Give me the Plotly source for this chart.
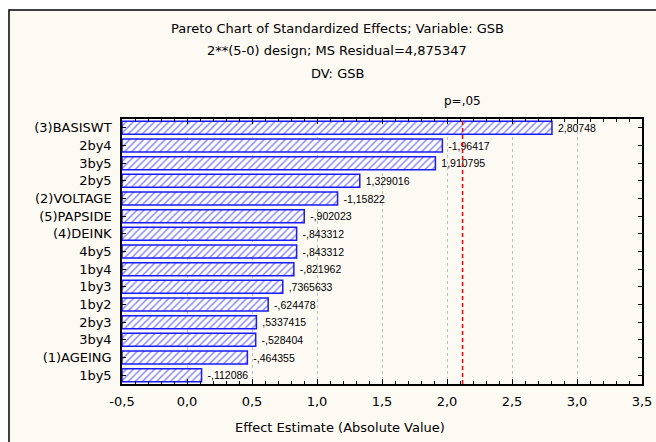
import plotly.graph_objects as go

# ---- data ----
effects = ["(3)BASISWT", "2by4", "3by5", "2by5", "(2)VOLTAGE", "(5)PAPSIDE",
           "(4)DEINK", "4by5", "1by4", "1by3", "1by2", "2by3", "3by4",
           "(1)AGEING", "1by5"]
estimates = [2.80748, -1.96417, 1.910795, 1.329016, -1.15822, -0.902023,
             -0.843312, -0.843312, -0.821962, 0.7365633, -0.624478, 0.5337415,
             -0.528404, -0.464355, -0.112086]
estimate_labels = ["2,80748", "-1,96417", "1,910795", "1,329016", "-1,15822",
                   "-,902023", "-,843312", "-,843312", "-,821962", ",7365633",
                   "-,624478", ",5337415", "-,528404", "-,464355", "-,112086"]
x_tick_vals = [-0.5, 0.0, 0.5, 1.0, 1.5, 2.0, 2.5, 3.0, 3.5]
x_tick_text = ["-0,5", "0,0", "0,5", "1,0", "1,5", "2,0", "2,5", "3,0", "3,5"]
p_crit = 2.1199
x_min, x_max = -0.5, 3.5

titles = ["Pareto Chart of Standardized Effects; Variable: GSB",
          "2**(5-0) design; MS Residual=4,875347",
          "DV: GSB"]

FONT = "DejaVu Sans, Verdana, sans-serif"
SMALL = "Liberation Sans, Arial, sans-serif"
BLUE = "#1a1aff"

# plot area in pixels
W, H = 656, 442
L, R, T, B = 122, 14, 119, 58
pw, ph = W - L - R, H - T - B
def px(x):  # pixel x -> paper
    return (x - L) / pw
def py(y):  # pixel y -> paper
    return (H - B - y) / ph

abs_vals = [abs(v) for v in estimates]

fig = go.Figure()
fig.add_trace(go.Bar(
    y=effects,
    x=[a - x_min for a in abs_vals],
    base=x_min,
    orientation="h",
    width=0.74,
    marker=dict(
        color="white",
        line=dict(color=BLUE, width=1.5),
        pattern=dict(shape="/", fgcolor=BLUE, bgcolor="white", size=5, solidity=0.3),
    ),
    text=[" " + s for s in estimate_labels],
    textposition="outside",
    textfont=dict(family=SMALL, size=10.5, color="black"),
    cliponaxis=False,
    hoverinfo="skip",
))

shapes = [
    # outer frame
    dict(type="rect", xref="paper", yref="paper",
         x0=px(9), x1=px(W + 5), y0=py(H + 5), y1=py(10),
         fillcolor="#fdf9f3", line=dict(color="black", width=1.5), layer="below"),
    # critical value line
    dict(type="line", xref="x", yref="paper", x0=p_crit, x1=p_crit, y0=0, y1=1,
         line=dict(color="red", width=1.5, dash="4px,3px")),
]

annotations = []
for i, t in enumerate(titles):
    annotations.append(dict(text=t, xref="paper", yref="paper",
                            x=px(337), y=py(28 + 22.5 * i),
                            showarrow=False, xanchor="center", yanchor="middle",
                            font=dict(family=FONT, size=13, color="black")))
annotations.append(dict(text="p=,05", xref="x", yref="paper", x=p_crit, y=py(101),
                        showarrow=False, xanchor="center", yanchor="middle",
                        font=dict(family=FONT, size=12, color="black")))
annotations.append(dict(text="Effect Estimate (Absolute Value)", xref="paper", yref="paper",
                        x=px(340), y=py(427), showarrow=False,
                        xanchor="center", yanchor="middle",
                        font=dict(family=FONT, size=13, color="black")))

fig.update_layout(
    width=W, height=H,
    margin=dict(l=L, r=R, t=T, b=B),
    paper_bgcolor="white",
    plot_bgcolor="white",
    showlegend=False,
    shapes=shapes,
    annotations=annotations,
    bargap=0.26,
    font=dict(family=FONT, size=12, color="black"),
)
fig.update_xaxes(
    automargin=False,
    range=[x_min, x_max],
    tickvals=x_tick_vals, ticktext=x_tick_text,
    ticks="inside", ticklen=5, tickcolor="black",
    minor=dict(dtick=0.1, ticks="inside", ticklen=3, tickcolor="black", showgrid=False),
    showline=True, linecolor="black", linewidth=1.5, mirror="allticks",
    showgrid=True, gridcolor="#c0c0c0", griddash="dot", gridwidth=1,
    zeroline=False,
    tickfont=dict(family=FONT, size=13),
    ticklabelstandoff=5,
)
fig.update_yaxes(
    automargin=False,
    autorange="reversed",
    ticks="inside", ticklen=4, tickcolor="black",
    showline=True, linecolor="black", linewidth=1.5, mirror="allticks",
    showgrid=False,
    tickfont=dict(family=FONT, size=13),
    ticklabelstandoff=6,
)

fig.write_html("out.html")
